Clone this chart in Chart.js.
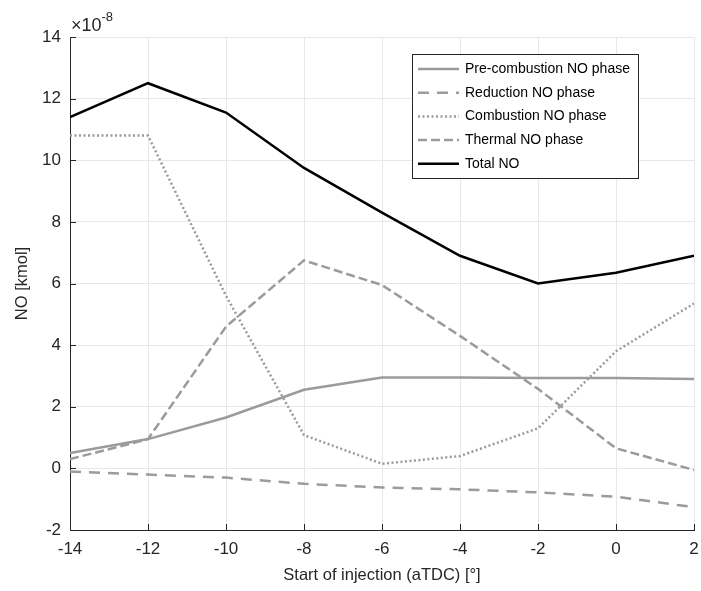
<!DOCTYPE html>
<html>
<head>
<meta charset="utf-8">
<script src="https://cdn.jsdelivr.net/npm/chart.js@4.4.1/dist/chart.umd.min.js"></script>
<style>
  html, body { margin: 0; padding: 0; background: #fff; }
  #wrap { width: 701px; height: 591px; }
</style>
</head>
<body>
<div id="wrap"><canvas id="myChart"></canvas></div>
<script>
// start of injection [deg aTDC]
const soi = [-14, -12, -10, -8, -6, -4, -2, 0, 2];
// NO [kmol], in units of 1e-8
const preCombustion = [0.5, 0.95, 1.65, 2.55, 2.95, 2.95, 2.93, 2.93, 2.9];
const reduction = [-0.1, -0.2, -0.3, -0.5, -0.62, -0.68, -0.78, -0.92, -1.26];
const combustion = [10.8, 10.8, 5.6, 1.08, 0.15, 0.4, 1.3, 3.8, 5.35];
const thermal = [0.3, 0.95, 4.6, 6.75, 5.95, 4.3, 2.58, 0.65, -0.05];
const totalNO = [11.4, 12.5, 11.55, 9.75, 8.3, 6.9, 6.0, 6.35, 6.9];

const FONT = 'Liberation Sans, Arial, sans-serif';
const GRAY = 'rgb(155,155,155)';

function pts(arr) {
  return arr.map((v, i) => ({ x: soi[i], y: v }));
}

// MATLAB style inward ticks + exponent label
const axesExtras = {
  id: 'axesExtras',
  afterDraw(chart) {
    const ctx = chart.ctx;
    const a = chart.chartArea;
    const xs = chart.scales.x, ys = chart.scales.y;
    ctx.save();
    ctx.strokeStyle = '#262626';
    ctx.lineWidth = 1;
    ctx.beginPath();
    xs.ticks.forEach(t => {
      const px = Math.round(xs.getPixelForValue(t.value)) + 0.5;
      ctx.moveTo(px, a.bottom);
      ctx.lineTo(px, a.bottom - 6);
    });
    ys.ticks.forEach(t => {
      const py = Math.round(ys.getPixelForValue(t.value)) + 0.5;
      ctx.moveTo(a.left, py);
      ctx.lineTo(a.left + 6, py);
    });
    ctx.stroke();
    ctx.fillStyle = '#262626';
    ctx.textBaseline = 'alphabetic';
    ctx.textAlign = 'left';
    ctx.font = '18px ' + FONT;
    ctx.fillText('\u00d710', a.left + 1, a.top - 6);
    const w = ctx.measureText('\u00d710').width;
    ctx.font = '13px ' + FONT;
    ctx.fillText('-8', a.left + 1 + w, a.top - 16);
    ctx.restore();
  }
};

// boxed legend inside the axes, top right
const boxLegend = {
  id: 'boxLegend',
  afterDraw(chart) {
    const ctx = chart.ctx;
    const x0 = 412, y0 = 54, w = 226, h = 124;
    ctx.save();
    ctx.fillStyle = '#fff';
    ctx.fillRect(x0, y0, w, h);
    ctx.strokeStyle = '#262626';
    ctx.lineWidth = 1;
    ctx.strokeRect(x0 + 0.5, y0 + 0.5, w, h);
    ctx.font = '14px ' + FONT;
    ctx.textBaseline = 'middle';
    ctx.textAlign = 'left';
    chart.data.datasets.forEach((ds, i) => {
      const cy = y0 + 15 + i * 23.7;
      ctx.strokeStyle = ds.borderColor;
      ctx.lineWidth = ds.borderWidth;
      ctx.setLineDash(ds.borderDash || []);
      ctx.beginPath();
      ctx.moveTo(x0 + 6, cy);
      ctx.lineTo(x0 + 47, cy);
      ctx.stroke();
      ctx.setLineDash([]);
      ctx.fillStyle = '#000';
      ctx.fillText(ds.label, x0 + 53, cy);
    });
    ctx.restore();
  }
};

const data = {
  datasets: [
    { label: 'Pre-combustion NO phase', data: pts(preCombustion), borderColor: GRAY, borderWidth: 2.5 },
    { label: 'Reduction NO phase', data: pts(reduction), borderColor: GRAY, borderWidth: 2.5, borderDash: [11, 8] },
    { label: 'Combustion NO phase', data: pts(combustion), borderColor: GRAY, borderWidth: 2.5, borderDash: [2, 2.5] },
    { label: 'Thermal NO phase', data: pts(thermal), borderColor: GRAY, borderWidth: 2.5, borderDash: [9, 4] },
    { label: 'Total NO', data: pts(totalNO), borderColor: '#000', borderWidth: 2.5 }
  ]
};

const config = {
  type: 'line',
  data: data,
  options: {
    responsive: true,
    maintainAspectRatio: false,
    animation: false,
    elements: { point: { radius: 0 }, line: { tension: 0 } },
    layout: { padding: { top: 37, right: 7, left: 0, bottom: 0 } },
    plugins: { legend: { display: false }, tooltip: { enabled: false } },
    scales: {
      x: {
        type: 'linear',
        min: -14, max: 2,
        afterFit: s => { s.height = 61; s.paddingLeft = 0; s.paddingRight = 0; },
        ticks: { stepSize: 2, color: '#262626', font: { family: FONT, size: 17 }, padding: 9, maxRotation: 0 },
        grid: { color: '#e8e8e8', tickLength: 0 },
        border: { color: '#262626' },
        title: { display: true, text: 'Start of injection (aTDC) [\u00b0]', color: '#262626', font: { family: FONT, size: 16.5 }, padding: { top: 0, bottom: 6 } }
      },
      y: {
        min: -2, max: 14,
        afterFit: s => { s.width = 70; s.paddingTop = 0; s.paddingBottom = 0; },
        ticks: { stepSize: 2, color: '#262626', font: { family: FONT, size: 17 }, padding: 9 },
        grid: { color: '#e8e8e8', tickLength: 0 },
        border: { color: '#262626' },
        title: { display: true, text: 'NO [kmol]', color: '#262626', font: { family: FONT, size: 16.5 }, padding: { top: 13, bottom: 0 } }
      }
    }
  },
  plugins: [axesExtras, boxLegend]
};

const myChart = new Chart(document.getElementById('myChart'), config);
</script>
</body>
</html>
